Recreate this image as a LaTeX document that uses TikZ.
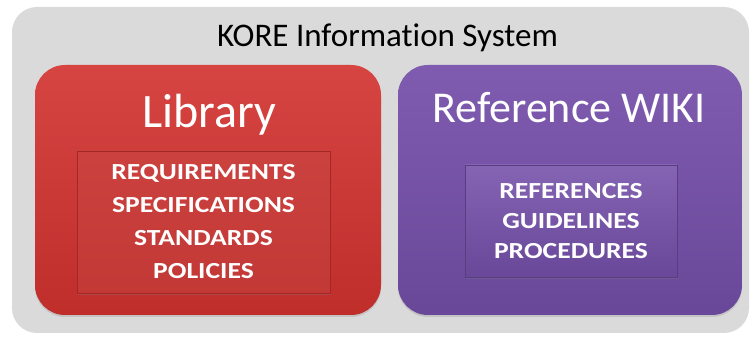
\documentclass[tikz,border=0pt]{standalone}
\usepackage{fontspec}
\setmainfont{Carlito}[Ligatures=NoCommon]
\newfontfamily\listfont[FakeStretch=1.2]{Carlito}
\usetikzlibrary{shadows}
\definecolor{panelgray}{rgb}{0.855,0.855,0.855}
\definecolor{libred}{rgb}{0.84,0.27,0.26}
\definecolor{libreddark}{rgb}{0.75,0.18,0.17}
\definecolor{wikipurple}{rgb}{0.50,0.36,0.69}
\definecolor{wikipurpledark}{rgb}{0.41,0.28,0.60}
\begin{document}
\begin{tikzpicture}[x=1pt,y=-1pt,
    bigbox/.style={rounded corners=30pt,inner sep=0pt,
        drop shadow={opacity=0.25,shadow xshift=0pt,shadow yshift=-2pt}},
    listbox/.style={inner sep=0pt,align=center,text=white,line width=0.6pt,
        font=\listfont\bfseries\fontsize{23}{33}\selectfont,
        drop shadow={opacity=0.3,shadow xshift=1pt,shadow yshift=-2pt}},
    headtext/.style={text=white,anchor=base}]

    \useasboundingbox (0,0) rectangle (756,339);

    % outer panel
    \node (kore) [fill=panelgray,rounded corners=25pt,minimum width=737pt,minimum height=326pt] at (380.5,170) {};
    \node (koretitle) [anchor=base,font=\fontsize{33}{36}\selectfont] at (387.5,47) {KORE Information System};

    % library
    \node (library) [bigbox,top color=libred,bottom color=libreddark,minimum width=346pt,minimum height=250pt] at (208,190) {};
    \node (librarytitle) [headtext,font=\fontsize{48}{52}\selectfont] at (209,128) {Library};
    \node (librarylist) [listbox,draw=libreddark!85!black,top color=libred!95!black,bottom color=libreddark!95!white,minimum width=253pt,minimum height=142pt] at (203.5,222)
        {REQUIREMENTS\\SPECIFICATIONS\\STANDARDS\\POLICIES};

    % wiki
    \node (wiki) [bigbox,top color=wikipurple,bottom color=wikipurpledark,minimum width=344pt,minimum height=250pt] at (570,190) {};
    \node (wikititle) [headtext,font=\fontsize{44}{48}\selectfont] at (569,123) {Reference WIKI};
    \node (wikilist) [listbox,draw=wikipurpledark!85!black,font=\listfont\bfseries\fontsize{23}{30}\selectfont,top color=wikipurple!95!white,bottom color=wikipurpledark,minimum width=212pt,minimum height=112pt] at (571,221)
        {REFERENCES\\GUIDELINES\\PROCEDURES};
\end{tikzpicture}
\end{document}
